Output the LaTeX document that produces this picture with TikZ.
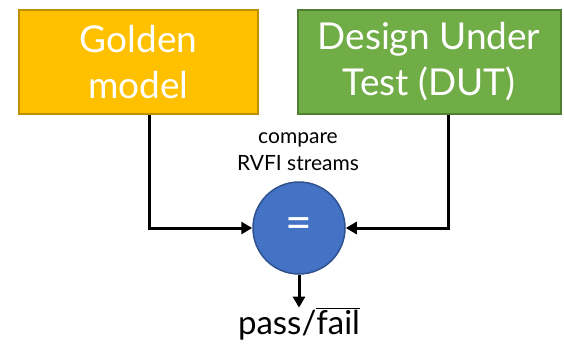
\documentclass[tikz,border=0pt]{standalone}
\usepackage{fontspec}
\setmainfont{Lato}
\usetikzlibrary{arrows.meta}
\definecolor{gold}{HTML}{FFC000}
\definecolor{goldb}{HTML}{BF9000}
\definecolor{dutg}{HTML}{70AD47}
\definecolor{dutb}{HTML}{507E32}
\definecolor{cmpb}{HTML}{4472C4}
\definecolor{cmpbd}{HTML}{2F528F}
\begin{document}
\begin{tikzpicture}[x=1pt,y=-1pt,
  box/.style={draw, line width=2pt, text=white, align=center, inner sep=0pt,
    font=\fontsize{37}{46}\selectfont},
  conn/.style={line width=3pt, -{Triangle[length=11pt,width=12pt]}}]
\useasboundingbox (0,0) rectangle (564,345);
\node[box, fill=gold, draw=goldb, minimum width=239pt, minimum height=104pt] (gm) at (138.5,62) {Golden\\model};
\node[box, fill=dutg, draw=dutb, minimum width=263pt, minimum height=104pt] (dut) at (429,62) {Design Under\\Test (DUT)};
\node[circle, draw=cmpbd, line width=1.5pt, fill=cmpb, minimum size=92pt, inner sep=0pt, text=white, font=\fontsize{46}{48}\selectfont] (eq) at (299,228) {=};
\node[align=center, font=\fontsize{21}{27}\selectfont] (lbl) at (298,152) {compare\\RVFI streams};
\node[font=\fontsize{33}{36}\selectfont, inner sep=0pt, anchor=south] (pf) at (299,340) {pass/$\overline{\mbox{fail}}$};
\coordinate (lc) at (149,228);
\coordinate (rc) at (448,228);
\draw[conn] (gm.south -| lc) -- (lc) -- (eq.west);
\draw[conn] (dut.south -| rc) -- (rc) -- (eq.east);
\draw[conn] (eq.south) -- (pf.north);
\end{tikzpicture}
\end{document}
